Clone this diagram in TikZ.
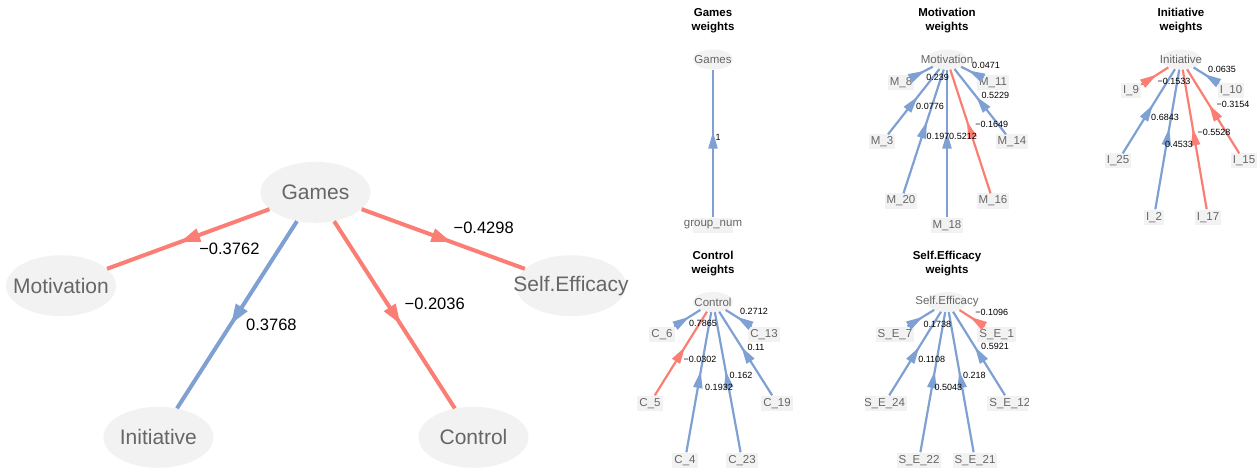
\documentclass[tikz,border=0pt]{standalone}
\usepackage{fontspec}
\setmainfont{Liberation Sans}
\usetikzlibrary{arrows.meta,shapes.geometric,decorations.markings}
\definecolor{posblue}{RGB}{126,160,210}
\definecolor{negred}{RGB}{250,126,116}
\definecolor{nodegray}{RGB}{242,242,242}
\definecolor{textgray}{RGB}{102,102,102}

\tikzset{
	bigcon/.style={ellipse, fill=nodegray, minimum width=110pt, minimum height=61pt, inner sep=0pt},
	bigtxt/.style={text=textgray, font=\fontsize{21}{21}\selectfont, inner sep=0pt},
	bigedge/.style={line width=4pt, postaction={decorate}, decoration={markings, mark=at position 0.55 with {\arrow{Triangle[length=20pt,width=13pt]}}}},
	biglab/.style={font=\fontsize{16.5}{16.5}\selectfont, inner sep=0pt},
	smallcon/.style={ellipse, fill=nodegray, minimum width=40pt, minimum height=20pt, inner sep=0pt},
	contxt/.style={text=textgray, font=\fontsize{11.5}{11.5}\selectfont, inner sep=0pt},
	ind/.style={fill=nodegray, text=textgray, font=\fontsize{11.5}{11.5}\selectfont, inner xsep=2pt, inner ysep=2pt, text height=8.5pt, text depth=2.5pt},
	indbox/.style={fill=nodegray, minimum width=40pt, minimum height=15pt, inner sep=0pt},
	smalledge/.style={line width=2.2pt, postaction={decorate}, decoration={markings, mark=at position 0.58 with {\arrow{Triangle[length=17pt,width=9pt]}}}},
	wlab/.style={font=\fontsize{9}{9}\selectfont, inner sep=0pt},
	paneltitle/.style={font=\fontsize{11.5}{14}\selectfont\bfseries, align=center, inner sep=0pt}
}

\begin{document}
\begin{tikzpicture}[x=1pt,y=1pt,yscale=-1]
	\useasboundingbox (0,0) rectangle (1259,468);
	
	% structural model
	\node[bigcon, label={[bigtxt]center:Games}] (games) at (315.5,192.3) {};
	\node[bigcon, label={[bigtxt]center:Motivation}] (motiv) at (61,285.7) {};
	\node[bigcon, label={[bigtxt]center:Self.Efficacy}] (selfeff) at (571,285.7) {};
	\node[bigcon, label={[bigtxt]center:Initiative}] (initi) at (158.4,437.3) {};
	\node[bigcon, label={[bigtxt]center:Control}] (contr) at (473.5,437.3) {};
	
	\draw[bigedge, negred] (games) -- (motiv);
	\draw[bigedge, negred] (games) -- (selfeff);
	\draw[bigedge, posblue] (games) -- (initi);
	\draw[bigedge, negred] (games) -- (contr);
	
	\node[biglab] (lmotiv) at (229.4,249) {−0.3762};
	\node[biglab] (lselfeff) at (483.7,228.3) {−0.4298};
	\node[biglab] (linit) at (271.4,325) {0.3768};
	\node[biglab] (lcontr) at (434.7,304) {−0.2036};
	
	% Games weights
	\node[paneltitle] (tgames) at (713,21) {Games\\weights};
	\node[smallcon, label={[contxt]center:Games}] (sgames) at (713,59.5) {};
	\node[indbox, label={[contxt]center:group\_num}] (grp) at (713,225) {};
	\draw[smalledge, posblue] (grp) -- (sgames);
	\node[wlab] (wgrp) at (718,137) {1};
	
	% Motivation weights
	\node[paneltitle] (tmot) at (947,21) {Motivation\\weights};
	\node[smallcon, label={[contxt]center:Motivation}] (smot) at (947,59.5) {};
	\node[ind] (m8) at (901,83) {M\_8};
	\node[ind] (m11) at (993,83) {M\_11};
	\node[ind] (m3) at (882,142) {M\_3};
	\node[ind] (m14) at (1012,142) {M\_14};
	\node[ind] (m20) at (901,201) {M\_20};
	\node[ind] (m16) at (993,201) {M\_16};
	\node[ind] (m18) at (947,225) {M\_18};
	\draw[smalledge, posblue] (m8) -- (smot);
	\draw[smalledge, posblue] (m11) -- (smot);
	\draw[smalledge, posblue] (m3) -- (smot);
	\draw[smalledge, posblue] (m14) -- (smot);
	\draw[smalledge, posblue] (m20) -- (smot);
	\draw[smalledge, negred] (m16) -- (smot);
	\draw[smalledge, posblue] (m18) -- (smot);
	\node[wlab] (wm11) at (986,65.7) {0.0471};
	\node[wlab] (wm8) at (937.7,77.3) {0.239};
	\node[wlab] (wm14) at (995.3,95) {0.5229};
	\node[wlab] (wm3) at (930,106) {0.0776};
	\node[wlab] (wm16) at (991.7,124) {−0.1649};
	\node[wlab] (wm20) at (938,136) {0.197};
	\node[wlab] (wm18) at (963,136) {0.5212};
	
	% Initiative weights
	\node[paneltitle] (tini) at (1181,21) {Initiative\\weights};
	\node[smallcon, label={[contxt]center:Initiative}] (sini) at (1181,59.5) {};
	\node[ind] (i9) at (1131,91) {I\_9};
	\node[ind] (i10) at (1231,91) {I\_10};
	\node[ind] (i25) at (1118,161) {I\_25};
	\node[ind] (i15) at (1244,161) {I\_15};
	\node[ind] (i2) at (1154,217) {I\_2};
	\node[ind] (i17) at (1208,217) {I\_17};
	\draw[smalledge, negred] (i9) -- (sini);
	\draw[smalledge, posblue] (i10) -- (sini);
	\draw[smalledge, posblue] (i25) -- (sini);
	\draw[smalledge, negred] (i15) -- (sini);
	\draw[smalledge, posblue] (i2) -- (sini);
	\draw[smalledge, negred] (i17) -- (sini);
	\node[wlab] (wi10) at (1222,69) {0.0635};
	\node[wlab] (wi9) at (1174,81) {−0.1533};
	\node[wlab] (wi15) at (1233,104) {−0.3154};
	\node[wlab] (wi25) at (1165,117) {0.6843};
	\node[wlab] (wi17) at (1214,132) {−0.5528};
	\node[wlab] (wi2) at (1179,144) {0.4533};
	
	% Control weights
	\node[paneltitle] (tcon) at (713,264) {Control\\weights};
	\node[smallcon, label={[contxt]center:Control}] (scon) at (713,302) {};
	\node[ind] (c6) at (662,334) {C\_6};
	\node[ind] (c13) at (764,334) {C\_13};
	\node[ind] (c5) at (650,403) {C\_5};
	\node[ind] (c19) at (777,403) {C\_19};
	\node[ind] (c4) at (685,460) {C\_4};
	\node[ind] (c23) at (742,460) {C\_23};
	\draw[smalledge, posblue] (c6) -- (scon);
	\draw[smalledge, posblue] (c13) -- (scon);
	\draw[smalledge, negred] (c5) -- (scon);
	\draw[smalledge, posblue] (c19) -- (scon);
	\draw[smalledge, posblue] (c4) -- (scon);
	\draw[smalledge, posblue] (c23) -- (scon);
	\node[wlab] (wc13) at (754,311) {0.2712};
	\node[wlab] (wc6) at (703,323) {0.7865};
	\node[wlab] (wc19) at (756,347) {0.11};
	\node[wlab] (wc5) at (700,359) {−0.0302};
	\node[wlab] (wc23) at (741,375) {0.162};
	\node[wlab] (wc4) at (719,387) {0.1932};
	
	% Self.Efficacy weights
	\begin{scope}
		\clip (865,240) rectangle (1028,468);
		\node[paneltitle] (tse) at (947,264) {Self.Efficacy\\weights};
		\node[smallcon, label={[contxt]center:Self.Efficacy}] (sse) at (947,302) {};
		\node[ind] (se7) at (895,334) {S\_E\_7};
		\node[ind] (se1) at (996.7,334) {S\_E\_1};
		\node[ind] (se24) at (884.5,403) {S\_E\_24};
		\node[ind] (se12) at (1009.8,403) {S\_E\_12};
		\node[ind] (se22) at (919,460) {S\_E\_22};
		\node[ind] (se21) at (975,460) {S\_E\_21};
		\draw[smalledge, posblue] (se7) -- (sse);
		\draw[smalledge, negred] (se1) -- (sse);
		\draw[smalledge, posblue] (se24) -- (sse);
		\draw[smalledge, posblue] (se12) -- (sse);
		\draw[smalledge, posblue] (se22) -- (sse);
		\draw[smalledge, posblue] (se21) -- (sse);
		\node[wlab] (wse1) at (991.7,312.7) {−0.1096};
		\node[wlab] (wse7) at (937.3,324) {0.1738};
		\node[wlab] (wse12) at (995,346.7) {0.5921};
		\node[wlab] (wse24) at (931.7,359.3) {0.1108};
		\node[wlab] (wse21) at (974.3,375) {0.218};
		\node[wlab] (wse22) at (948.3,387.3) {0.5043};
	\end{scope}
\end{tikzpicture}
\end{document}
